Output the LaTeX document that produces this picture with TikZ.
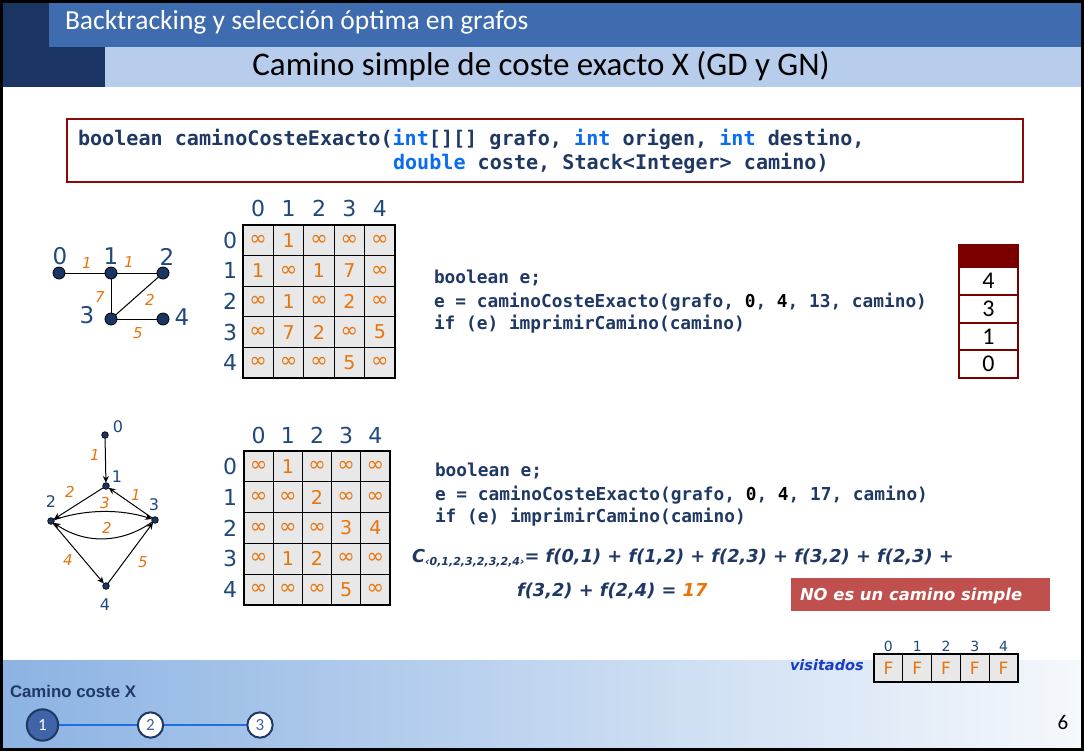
\documentclass[tikz,border=0pt]{standalone}
\usepackage{fontspec}
\usetikzlibrary{arrows.meta}
\newfontfamily\calfont{Carlito}
\newfontfamily\verdfont{DejaVu Sans}
\newfontfamily\codefont{DejaVu Sans Mono}
\newfontfamily\arialfont{Liberation Sans}
\newfontfamily\handfont{DejaVu Sans}
% font size given in pixels of the drawing (1px = 0.75pt)
\newcommand\pxs[1]{\fontsize{\fpeval{#1*0.75}pt}{\fpeval{#1*0.9}pt}\selectfont}
\newcommand\infsym{{\pxs{21}∞}}
\definecolor{navyblk}{HTML}{1B3563}
\definecolor{midblue}{HTML}{3F6BAF}
\definecolor{lightband}{HTML}{B8CDEB}
\definecolor{codecol}{HTML}{1F3864}
\definecolor{kwcol}{HTML}{0A6CF0}
\definecolor{labcol}{HTML}{1F497D}
\definecolor{wcol}{HTML}{E8740C}
\definecolor{boxred}{HTML}{8B0A0A}
\definecolor{stackred}{HTML}{7A0000}
\definecolor{nored}{HTML}{C0504D}
\definecolor{visblue}{HTML}{1A3CC0}
\definecolor{footl}{HTML}{8CB3E3}
\definecolor{footr}{HTML}{F5F8FC}
\definecolor{circfill}{HTML}{3F65A8}
\definecolor{linkblue}{HTML}{1F6FE0}
\definecolor{cellgray}{HTML}{E8E8E8}
\begin{document}
\begin{tikzpicture}[x=0.75pt,y=-0.75pt,
  every node/.style={inner sep=0pt,outer sep=0pt},
  codetxt/.style={anchor=base west,text=codecol,font=\codefont\bfseries\pxs{20.1}},
  calltxt/.style={anchor=base west,text=codecol,font=\codefont\bfseries\pxs{17.8}},
  mcellA/.style={draw=black,line width=0.9pt,fill=cellgray,minimum width=22.8pt,minimum height=22.95pt,text=wcol,font=\verdfont\pxs{19}},
  mcellB/.style={draw=black,line width=0.9pt,fill=cellgray,minimum width=21.9pt,minimum height=23.1pt,text=wcol,font=\verdfont\pxs{19}},
  idxlab/.style={text=labcol,font=\verdfont\pxs{22}},
  gnode/.style={circle,draw=black,line width=0.6pt,fill=navyblk,minimum size=9pt},
  snode/.style={circle,draw=black,line width=0.5pt,fill=navyblk,minimum size=5pt},
  glab/.style={text=labcol,font=\verdfont\pxs{23}},
  slab/.style={text=labcol,font=\verdfont\pxs{16}},
  wlab/.style={text=wcol,font=\verdfont\itshape\pxs{15}},
  gedge/.style={draw=black,line width=0.75pt},
  arr/.style={draw=black,line width=0.75pt,-{Stealth[length=5pt,width=4.5pt]}},
  stackcell/.style={draw=stackred,line width=0.9pt,fill=white,minimum width=44.25pt,minimum height=21pt,font=\calfont\pxs{24}},
  viscell/.style={draw=black,line width=0.9pt,fill=cellgray,minimum width=21.6pt,minimum height=21pt,text=wcol,font=\verdfont\pxs{17}},
  formula/.style={anchor=base west,text=codecol,font=\handfont\bfseries\itshape\pxs{17.8}},
  stepcirc/.style={circle,draw=codecol,line width=1.5pt,fill=white,minimum width=18pt,minimum height=19pt,text=circfill,font=\calfont\pxs{17}}]
\useasboundingbox (0,0) rectangle (1084,751);
\fill[white] (0,0) rectangle (1084,751);

% header bands
\fill[navyblk] (3,3) rectangle (49,47);
\fill[navyblk] (3,47) rectangle (105,87);
\fill[midblue] (49,3) rectangle (1081,47);
\fill[lightband] (105,47) rectangle (1081,87);
\node[anchor=west,text=white,font=\calfont\pxs{27.5}] (title) at (65,22) {Backtracking y selección óptima en grafos};
\node[font=\calfont\pxs{33}] (subtitle) at (541,66) {Camino simple de coste exacto X (GD y GN)};

% footer band
\shade[left color=footl,right color=footr] (3,660) rectangle (1081,748);

% signature box
\node[draw=boxred,line width=1.1pt,minimum width=717pt,minimum height=47.25pt,anchor=north west] (sigbox) at (67,119) {};
\node[codetxt] (sig1) at (78,145) {boolean caminoCosteExacto({\color{kwcol}int}[][] grafo, {\color{kwcol}int} origen, {\color{kwcol}int} destino,};
\node[codetxt] (sig2) at (393,169) {{\color{kwcol}double} coste, Stack<Integer> camino)};

% ---------- undirected graph ----------
\node[gnode] (t0) at (59,273) {};
\node[gnode] (t1) at (111,273) {};
\node[gnode] (t2) at (163,273) {};
\node[gnode] (t3) at (111,319) {};
\node[gnode] (t4) at (163,319) {};
\draw[gedge] (t0) -- (t1);
\draw[gedge] (t1) -- (t2);
\draw[gedge] (t1) -- (t3);
\draw[gedge] (t2) -- (t3);
\draw[gedge] (t3) -- (t4);
\node[glab] (tl0) at (60,256) {0};
\node[glab] (tl1) at (111,256) {1};
\node[glab] (tl2) at (167,257) {2};
\node[glab] (tl3) at (87,315) {3};
\node[glab] (tl4) at (182,317) {4};
\node[wlab] (tw01) at (87,263) {1};
\node[wlab] (tw12) at (129,262) {1};
\node[wlab] (tw13) at (100,297) {7};
\node[wlab] (tw23) at (150,300) {2};
\node[wlab] (tw34) at (138,333) {5};

% ---------- adjacency matrix (undirected) ----------
\foreach \c in {0,...,4}{
  \node[idxlab] (ah\c) at ({243+30.4*(\c+0.5)},208) {\c};
  \node[idxlab] (av\c) at (230,{225+30.6*(\c+0.5)}) {\c};
}
\foreach \r/\vals in {0/{\infsym,1,\infsym,\infsym,\infsym},
                      1/{1,\infsym,1,7,\infsym},
                      2/{\infsym,1,\infsym,2,\infsym},
                      3/{\infsym,7,2,\infsym,5},
                      4/{\infsym,\infsym,\infsym,5,\infsym}}{
  \foreach \v [count=\ci from 0] in \vals {
    \node[mcellA] (a-\r-\ci) at ({243+30.4*(\ci+0.5)},{225+30.6*(\r+0.5)}) {\v};
  }
}
\draw[line width=1.3pt] (a-0-0.north west) rectangle (a-4-4.south east);

% call with cost 13
\node[calltxt] (call1a) at (434,283) {boolean e;};
\node[calltxt] (call1b) at (434,307) {e = caminoCosteExacto(grafo, {\color{black}0}, {\color{black}4}, 13, camino)};
\node[calltxt] (call1c) at (434,329) {if (e) imprimirCamino(camino)};

% stack with the path found
\node[fill=stackred,draw=stackred,line width=0.9pt,minimum width=44.25pt,minimum height=16.5pt] (stop) at (988.5,256) {};
\node[stackcell] (s4) at (988.5,281) {4};
\node[stackcell] (s3) at (988.5,309) {3};
\node[stackcell] (s1) at (988.5,337) {1};
\node[stackcell] (s0) at (988.5,364) {0};

% ---------- directed graph ----------
\node[snode] (b0) at (105,435) {};
\node[snode] (b1) at (106,486) {};
\node[snode] (b2) at (51,521) {};
\node[snode] (b3) at (155,520) {};
\node[snode] (b4) at (106,586) {};
\draw[arr] (b0) -- (b1);
\draw[arr] (b1) -- (b2);
\draw[arr] (b3) -- (b1);
\draw[arr] (b2) .. controls (85,509) and (121,509) .. (b3);
\draw[arr] (b3) .. controls (121,544) and (85,544) .. (b2);
\draw[arr] (b2) -- (b4);
\draw[arr] (b4) -- (b3);
\node[slab] (bl0) at (118,427) {0};
\node[slab] (bl1) at (117,477) {1};
\node[slab] (bl2) at (51,502) {2};
\node[slab] (bl3) at (154,505) {3};
\node[slab] (bl4) at (105,605) {4};
\node[wlab] (bw01) at (95,455) {1};
\node[wlab] (bw12) at (70,492) {2};
\node[wlab] (bw23) at (105,503) {3};
\node[wlab] (bw31) at (136,495) {1};
\node[wlab] (bw32) at (107,528) {2};
\node[wlab] (bw24) at (68,560) {4};
\node[wlab] (bw43) at (143,562) {5};

% ---------- adjacency matrix (directed) ----------
\foreach \c in {0,...,4}{
  \node[idxlab] (bh\c) at ({244+29.2*(\c+0.5)},435) {\c};
  \node[idxlab] (bv\c) at (230,{451+30.8*(\c+0.5)}) {\c};
}
\foreach \r/\vals in {0/{\infsym,1,\infsym,\infsym,\infsym},
                      1/{\infsym,\infsym,2,\infsym,\infsym},
                      2/{\infsym,\infsym,\infsym,3,4},
                      3/{\infsym,1,2,\infsym,\infsym},
                      4/{\infsym,\infsym,\infsym,5,\infsym}}{
  \foreach \v [count=\ci from 0] in \vals {
    \node[mcellB] (m-\r-\ci) at ({244+29.2*(\ci+0.5)},{451+30.8*(\r+0.5)}) {\v};
  }
}
\draw[line width=1.3pt] (m-0-0.north west) rectangle (m-4-4.south east);

% call with cost 17
\node[calltxt] (call2a) at (435,476) {boolean e;};
\node[calltxt] (call2b) at (435,500) {e = caminoCosteExacto(grafo, {\color{black}0}, {\color{black}4}, 17, camino)};
\node[calltxt] (call2c) at (435,522) {if (e) imprimirCamino(camino)};

% cost of the walk
\node[formula] (cost1) at (412,562) {C\raisebox{-0.35ex}{\pxs{11}‹0,1,2,3,2,3,2,4›}= f(0,1) + f(1,2) + f(2,3) + f(3,2) + f(2,3) +};
\node[formula] (cost2) at (517,596) {f(3,2) + f(2,4) = {\color{wcol}17}};

% verdict
\node[fill=nored,minimum width=194.25pt,minimum height=24.75pt,anchor=north west] (nobox) at (791,578) {};
\node[anchor=west,text=white,font=\handfont\bfseries\itshape\pxs{16.4}] (notxt) at (800,596) {NO es un camino simple};

% visited array
\node[anchor=base west,text=visblue,font=\verdfont\bfseries\itshape\pxs{14.5}] (vislab) at (790,670) {visitados};
\foreach \c in {0,...,4}{
  \node[viscell] (v\c) at ({874+28.8*(\c+0.5)},668) {F};
  \node[text=labcol,font=\verdfont\pxs{14}] (vh\c) at ({874+28.8*(\c+0.5)},646) {\c};
}

% footer navigation
\node[anchor=base west,text=codecol,font=\arialfont\bfseries\pxs{16.8}] (navtitle) at (10,697.5) {Camino coste X};
\draw[linkblue,line width=1.5pt] (42.5,725) -- (260,725);
\node[stepcirc,fill=circfill,text=white,minimum width=23pt,minimum height=23.5pt] (n1) at (42.5,725) {1};
\node[stepcirc] (n2) at (150.5,725) {2};
\node[stepcirc] (n3) at (260,725) {3};
\node[font=\calfont\pxs{21}] (pagenum) at (1063,722) {6};

% outer frame
\draw[black,line width=2.25pt] (1.5,1.5) rectangle (1082.5,749.5);
\end{tikzpicture}
\end{document}
